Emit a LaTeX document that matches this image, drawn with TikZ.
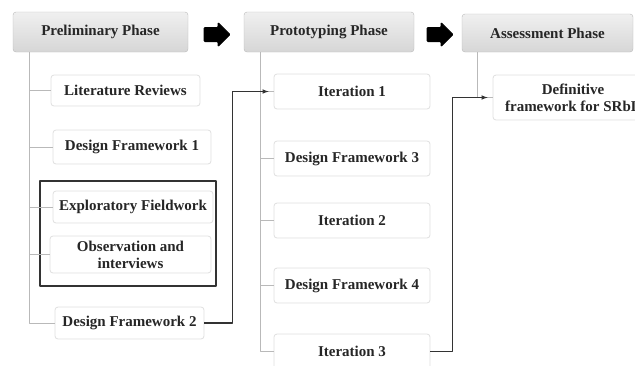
\documentclass[tikz,border=0pt]{standalone}
\usepackage{fontspec}
\setmainfont{Liberation Serif}

\begin{document}
\begin{tikzpicture}[x=1pt,y=-1pt,line join=round,>=latex,
    font=\fontsize{15}{17}\selectfont\bfseries,
    phase/.style={draw=gray!55, rounded corners=3pt, top color=gray!12, bottom color=gray!32,
        minimum height=40pt, inner sep=0pt, text=black!85},
    stage/.style={draw=gray!25, rounded corners=3pt, fill=white, line width=0.8pt,
        minimum height=33pt, inner sep=0pt, text=black!85, align=center},
    branch/.style={draw=gray!55, line width=0.9pt},
    link/.style={draw=black!80, line width=1.1pt, ->, shorten >=5pt},
    blockarrow/.style={fill=black, draw=black, line width=1pt, rounded corners=1pt}]

    \useasboundingbox (0,0) rectangle (635,365);
    \clip (0,0) rectangle (635,365);

    % Phase headers
    \node[phase, minimum width=175pt] (prelim) at (100.5,32) {Preliminary Phase};
    \node[phase, minimum width=170pt] (proto) at (329,32) {Prototyping Phase};
    \node[phase, minimum width=171pt, minimum height=38pt] (assess) at (547.5,33) {Assessment Phase};

    % Block arrows between phases
    \foreach \x in {204,427}
        \draw[blockarrow] (\x,27.5) -- ++(14,0) -- ++(0,-5) -- ++(12,12) -- ++(-12,12)
            -- ++(0,-5) -- ++(-14,0) -- cycle;

    % Preliminary stages
    \node[stage, minimum width=149pt, minimum height=31pt] (litrev) at (125.5,90.5) {Literature Reviews};
    \node[stage, minimum width=158pt, minimum height=34pt] (dfone) at (132,147) {Design Framework 1};
    \node[stage, minimum width=160pt, minimum height=32pt] (explore) at (133,207) {Exploratory Fieldwork};
    \node[stage, minimum width=161pt, minimum height=37pt] (observe) at (130.5,254.5) {Observation and\\interviews};
    \node[stage, minimum width=149pt, minimum height=32pt] (dftwo) at (129.5,323) {Design Framework 2};

    % Fieldwork group frame
    \draw[black!80, line width=1.6pt] (40,181) rectangle (216,286);

    % Prototyping stages
    \node[stage, minimum width=156pt, minimum height=35pt] (iterone) at (352,91.5) {Iteration 1};
    \node[stage, minimum width=156pt, minimum height=35pt] (dfthree) at (352,158.5) {Design Framework 3};
    \node[stage, minimum width=156pt, minimum height=35pt] (itertwo) at (352,220.5) {Iteration 2};
    \node[stage, minimum width=156pt, minimum height=35pt] (dffour) at (352,285.5) {Design Framework 4};
    \node[stage, minimum width=156pt, minimum height=35pt] (iterthree) at (352,351.5) {Iteration 3};

    % Assessment stage
    \node[stage, minimum width=160pt, minimum height=45pt] (defin) at (573,97.5) {Definitive\\framework for SRbL};

    % Tree trunks and branches
    \coordinate (ta) at ([xshift=17pt]prelim.south west);
    \coordinate (tb) at ([xshift=17pt]proto.south west);
    \coordinate (tc) at ([xshift=16pt]assess.south west);
    \draw[branch] (ta) |- (dftwo.west);
    \foreach \n in {litrev,dfone,explore,observe}
        \draw[branch] (ta |- \n.west) -- (\n.west);
    \draw[branch] (tb) |- (iterthree.west);
    \foreach \n in {iterone,dfthree,itertwo,dffour}
        \draw[branch] (tb |- \n.west) -- (\n.west);
    \draw[branch] (tc) |- (defin.west);

    % Links between phases
    \draw[link] (dftwo.east) -- ++(28pt,0) |- (iterone.west);
    \draw[link] (iterthree.east) -- ++(22pt,0) |- (defin.west);

\end{tikzpicture}
\end{document}
